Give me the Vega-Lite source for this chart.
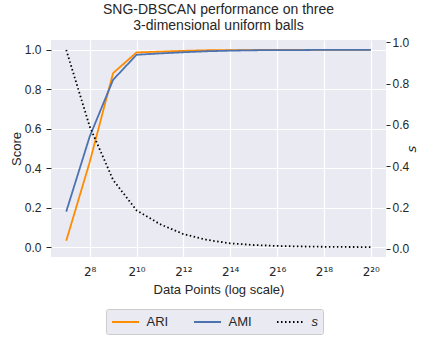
{
  "$schema": "https://vega.github.io/schema/vega-lite/v6.json",
  "width": 335,
  "height": 217,
  "autosize": "none",
  "padding": {"left": 51, "top": 40, "right": 49, "bottom": 82},
  "background": "white",
  "title": {
    "text": ["SNG-DBSCAN performance on three", "3-dimensional uniform balls"],
    "font": "Liberation Sans",
    "fontSize": 14,
    "fontWeight": "normal",
    "color": "#262626",
    "offset": 3,
    "lineHeight": 16,
    "anchor": "middle"
  },
  "config": {
    "view": {"fill": "#EAEAF2", "stroke": null},
    "font": "Liberation Sans",
    "axis": {
      "domain": false,
      "gridColor": "#FFFFFF",
      "gridWidth": 1.2,
      "labelFont": "Liberation Sans",
      "labelFontSize": 12,
      "labelColor": "#262626",
      "titleFont": "Liberation Sans",
      "titleFontSize": 13,
      "titleFontWeight": "normal",
      "titleColor": "#262626",
      "tickColor": "#262626",
      "tickWidth": 1
    }
  },
  "data": {
    "values": [
      {"n": 128, "series": "ARI", "value": 0.032},
      {"n": 256, "series": "ARI", "value": 0.43},
      {"n": 512, "series": "ARI", "value": 0.882},
      {"n": 1024, "series": "ARI", "value": 0.987},
      {"n": 2048, "series": "ARI", "value": 0.991},
      {"n": 4096, "series": "ARI", "value": 0.995},
      {"n": 8192, "series": "ARI", "value": 0.998},
      {"n": 16384, "series": "ARI", "value": 0.999},
      {"n": 32768, "series": "ARI", "value": 0.999},
      {"n": 65536, "series": "ARI", "value": 1.0},
      {"n": 131072, "series": "ARI", "value": 1.0},
      {"n": 262144, "series": "ARI", "value": 1.0},
      {"n": 524288, "series": "ARI", "value": 1.0},
      {"n": 1048576, "series": "ARI", "value": 1.0},
      {"n": 128, "series": "AMI", "value": 0.18},
      {"n": 256, "series": "AMI", "value": 0.56},
      {"n": 512, "series": "AMI", "value": 0.848},
      {"n": 1024, "series": "AMI", "value": 0.975},
      {"n": 2048, "series": "AMI", "value": 0.982},
      {"n": 4096, "series": "AMI", "value": 0.988},
      {"n": 8192, "series": "AMI", "value": 0.993},
      {"n": 16384, "series": "AMI", "value": 0.996},
      {"n": 32768, "series": "AMI", "value": 0.998},
      {"n": 65536, "series": "AMI", "value": 0.999},
      {"n": 131072, "series": "AMI", "value": 0.999},
      {"n": 262144, "series": "AMI", "value": 1.0},
      {"n": 524288, "series": "AMI", "value": 1.0},
      {"n": 1048576, "series": "AMI", "value": 1.0},
      {"n": 128, "series": "s", "value": 0.963},
      {"n": 256, "series": "s", "value": 0.593},
      {"n": 512, "series": "s", "value": 0.334},
      {"n": 1024, "series": "s", "value": 0.187},
      {"n": 2048, "series": "s", "value": 0.12},
      {"n": 4096, "series": "s", "value": 0.072},
      {"n": 8192, "series": "s", "value": 0.044},
      {"n": 16384, "series": "s", "value": 0.027},
      {"n": 32768, "series": "s", "value": 0.019},
      {"n": 65536, "series": "s", "value": 0.0145},
      {"n": 131072, "series": "s", "value": 0.012},
      {"n": 262144, "series": "s", "value": 0.0105},
      {"n": 524288, "series": "s", "value": 0.0095},
      {"n": 1048576, "series": "s", "value": 0.009}
    ]
  },
  "encoding": {
    "x": {
      "field": "n",
      "type": "quantitative",
      "scale": {"type": "log", "base": 2, "domain": [81.57, 1645419], "nice": false},
      "axis": {
        "title": "Data Points (log scale)",
        "values": [256, 1024, 4096, 16384, 65536, 262144, 1048576],
        "labelExpr": "['','','','','','','','','2⁸','','2¹⁰','','2¹²','','2¹⁴','','2¹⁶','','2¹⁸','','2²⁰'][round(log(datum.value)/LN2)]",
        "labelFont": "DejaVu Sans",
        "labelFontSize": 12,
        "ticks": false,
        "grid": true,
        "labelPadding": 9,
        "titlePadding": 6,
        "labelFlush": false
      }
    }
  },
  "layer": [
    {
      "transform": [{"filter": "datum.series !== 's'"}],
      "mark": {"type": "line", "strokeWidth": 1.8},
      "encoding": {
        "y": {
          "field": "value",
          "type": "quantitative",
          "scale": {"domain": [-0.05, 1.05], "nice": false, "zero": false},
          "axis": {
            "orient": "left",
            "title": "Score",
            "values": [0, 0.2, 0.4, 0.6, 0.8, 1.0],
            "format": ".1f",
            "grid": true,
            "ticks": true,
            "tickSize": 5,
            "labelPadding": 5,
            "titlePadding": 1
          }
        },
        "color": {
          "field": "series",
          "type": "nominal",
          "scale": {"domain": ["ARI", "AMI", "s"], "range": ["#FF8C00", "#4C72B0", "#000000"]},
          "legend": {
            "title": null,
            "orient": "none",
            "legendX": 55,
            "legendY": 269,
            "direction": "horizontal",
            "fillColor": "#EAEAF2",
            "strokeColor": "#CCCCCC",
            "cornerRadius": 2,
            "padding": 5,
            "labelFont": "Liberation Sans",
            "labelFontSize": 13,
            "labelColor": "#262626",
            "labelFontStyle": {"expr": "datum.label === 's' ? 'italic' : 'normal'"},
            "labelOffset": 13,
            "columnPadding": 21,
            "symbolOffset": 6.5,
            "symbolType": "M-1.93,0H1.93",
            "symbolSize": 196,
            "symbolStrokeWidth": 1.8
          }
        },
        "strokeDash": {
          "field": "series",
          "type": "nominal",
          "scale": {"domain": ["ARI", "AMI", "s"], "range": [[1, 0], [1, 0], [1.5, 2.5]]},
          "legend": {
            "title": null,
            "orient": "none",
            "legendX": 55,
            "legendY": 269,
            "direction": "horizontal",
            "fillColor": "#EAEAF2",
            "strokeColor": "#CCCCCC",
            "cornerRadius": 2,
            "padding": 5,
            "labelFont": "Liberation Sans",
            "labelFontSize": 13,
            "labelColor": "#262626",
            "labelFontStyle": {"expr": "datum.label === 's' ? 'italic' : 'normal'"},
            "labelOffset": 13,
            "columnPadding": 21,
            "symbolOffset": 6.5,
            "symbolType": "M-1.93,0H1.93",
            "symbolSize": 196,
            "symbolStrokeWidth": 1.8
          }
        }
      }
    },
    {
      "transform": [{"filter": "datum.series === 's'"}],
      "mark": {"type": "line", "strokeWidth": 1.8},
      "encoding": {
        "y": {
          "field": "value",
          "type": "quantitative",
          "scale": {"domain": [-0.039, 1.011], "nice": false, "zero": false},
          "axis": {
            "orient": "right",
            "title": "s",
            "titleFont": "DejaVu Sans",
            "titleFontStyle": "italic",
            "titleAngle": 270,
            "values": [0, 0.2, 0.4, 0.6, 0.8, 1.0],
            "format": ".1f",
            "grid": false,
            "ticks": true,
            "tickSize": 4,
            "labelPadding": 2,
            "titlePadding": 10
          }
        },
        "color": {"field": "series", "type": "nominal"},
        "strokeDash": {"field": "series", "type": "nominal"}
      }
    }
  ],
  "resolve": {"scale": {"y": "independent"}}
}
